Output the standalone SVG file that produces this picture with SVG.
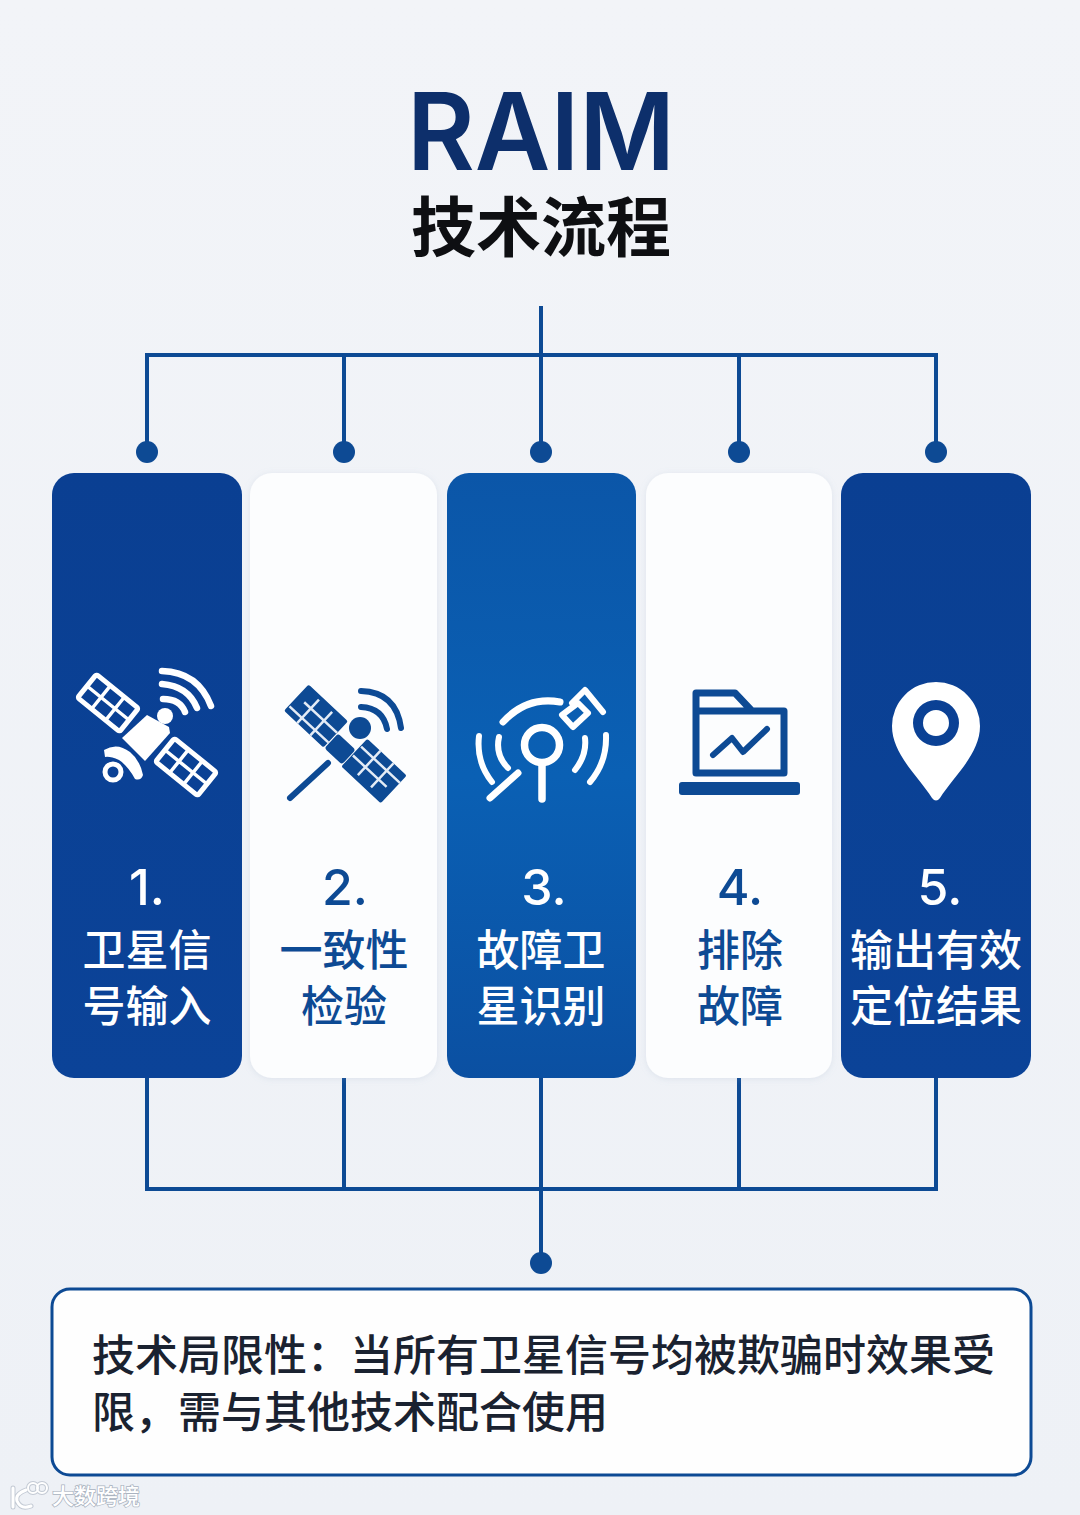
<svg xmlns="http://www.w3.org/2000/svg" width="1080" height="1515" viewBox="0 0 1080 1515">
<style>
.cjk{font-family:"Noto Sans CJK SC","Noto Sans",sans-serif}
.lbl{font-size:43px;font-weight:500;text-anchor:middle}
.num{font-family:"Inter","Noto Sans",sans-serif;font-size:50px;font-weight:500;text-anchor:middle}
.w{fill:#fff}
.b{fill:#0d4a94}
.ws{fill:none;stroke:#fff;stroke-linecap:round;stroke-linejoin:round}
.bs{fill:none;stroke:#0d4a94;stroke-linecap:round;stroke-linejoin:round}
.conn{fill:none;stroke:#0d4a94;stroke-width:4}
.dot{fill:#0d4a94}
.pan{fill:none;stroke:#fff;stroke-width:5;stroke-linejoin:round}
.grid{fill:none;stroke:#fff;stroke-width:3.500}
.lgrid{fill:none;stroke:#e4ecf6;stroke-width:2.500}
</style>
<defs>
<linearGradient id="bg" x1="0" y1="0" x2="0" y2="1"><stop offset="0" stop-color="#f2f4f8"/><stop offset="1" stop-color="#eef1f6"/></linearGradient>
<linearGradient id="c1" x1="0" y1="0" x2="0" y2="1"><stop offset="0" stop-color="#0a3f92"/><stop offset="1" stop-color="#0b4398"/></linearGradient>
<linearGradient id="c3" x1="0" y1="0" x2="0" y2="1"><stop offset="0" stop-color="#0b56a8"/><stop offset="0.5" stop-color="#0a60b4"/><stop offset="1" stop-color="#0b50a2"/></linearGradient>
<filter id="sh" x="-10%" y="-5%" width="120%" height="110%"><feDropShadow dx="0" dy="1" stdDeviation="3" flood-color="#8fa3c0" flood-opacity="0.2"/></filter>
</defs>
<rect width="1080" height="1515" fill="url(#bg)"/>

<g id="title">
<text x="541" y="170" text-anchor="middle" font-family="Inter,'Noto Sans',sans-serif" font-size="107" font-weight="600" fill="#0d2f6b" textLength="268" lengthAdjust="spacingAndGlyphs">RAIM</text>
<text x="541" y="251" text-anchor="middle" class="cjk" font-size="65" font-weight="700" fill="#0e0f12">技术流程</text>
</g>

<g id="connectors">
<path class="conn" d="M541 306V452M147 452V355H936V452M344 355V452M739 355V452"/>
<circle class="dot" cx="147" cy="452" r="11"/>
<circle class="dot" cx="344" cy="452" r="11"/>
<circle class="dot" cx="541" cy="452" r="11"/>
<circle class="dot" cx="739" cy="452" r="11"/>
<circle class="dot" cx="936" cy="452" r="11"/>
<path class="conn" d="M147 1078V1189H936V1078M344 1078V1189M739 1078V1189M541 1078V1263"/>
<circle class="dot" cx="541" cy="1263" r="11"/>
</g>

<g id="node1">
<rect x="52" y="473" width="190" height="605" rx="22" fill="url(#c1)"/>
<g transform="translate(108 703) rotate(39)">
<rect x="-27" y="-15" width="54" height="30" rx="2" class="pan"/>
<path d="M-9 -15V15M9 -15V15M-27 0H27" class="grid"/>
</g>
<g transform="translate(186 767) rotate(39)">
<rect x="-27" y="-15" width="54" height="30" rx="2" class="pan"/>
<path d="M-9 -15V15M9 -15V15M-27 0H27" class="grid"/>
</g>
<polygon class="w" points="147,715 169,727 170,733 145,761 122,738"/>
<circle class="w" cx="165" cy="716" r="8"/>
<path class="w" d="M104 750Q117 742 130 752Q140 760 143 775Q141 781 135 779Q128 766 119 760Q110 756 105 757Z"/>
<circle cx="113" cy="772" r="8" fill="none" stroke="#fff" stroke-width="5"/>
<path class="ws" stroke-width="6.500" d="M163 699Q180 699 185 712"/>
<path class="ws" stroke-width="6.500" d="M162 684Q188 686 197 708"/>
<path class="ws" stroke-width="6.500" d="M162 671Q198 672 211 706"/>
<text class="num w" x="147" y="905">1.</text>
<text class="cjk lbl w" x="147" y="966">卫星信</text>
<text class="cjk lbl w" x="147" y="1022">号输入</text>
</g>

<g id="node2">
<rect x="250" y="473" width="187" height="605" rx="22" fill="#fcfdfe" filter="url(#sh)"/>
<g transform="translate(316 716) rotate(43)">
<rect x="-27" y="-18" width="54" height="36" rx="2" class="b"/>
<path d="M-26 11H27M-9 -14V18M9 -14V18M-18 -2H27" class="lgrid"/>
</g>
<g transform="translate(374 771) rotate(43)">
<rect x="-27" y="-19" width="54" height="38" rx="2" class="b"/>
<path d="M-26 -9H27M-9 -19V14M9 -19V14M-26 3H20" class="lgrid"/>
</g>
<rect x="-12" y="-10" width="24" height="20" rx="3" class="b" transform="translate(340 749) rotate(43)"/>
<circle class="b" cx="360" cy="728" r="11"/>
<path class="bs" stroke-width="6" d="M328 763L290 798"/>
<path class="bs" stroke-width="6" d="M361 707Q383 708 387 729"/>
<path class="bs" stroke-width="6" d="M361 691Q396 692 401 728"/>
<text class="num b" x="345" y="905">2.</text>
<text class="cjk lbl b" x="344" y="966">一致性</text>
<text class="cjk lbl b" x="344" y="1022">检验</text>
</g>

<g id="node3">
<rect x="447" y="473" width="189" height="605" rx="22" fill="url(#c3)"/>
<circle cx="542" cy="745" r="17.500" fill="none" stroke="#fff" stroke-width="7.500"/>
<path class="ws" stroke-width="7.500" d="M542 764V799"/>
<path class="ws" stroke-width="7" d="M490 798L518 773"/>
<path class="ws" stroke-width="7" d="M503 722Q527 696 560 702"/>
<path class="ws" stroke-width="6" d="M562 715L573 727L588 713L578 703Z"/>
<path class="ws" stroke-width="6" d="M572 703L585 690L603 712"/>
<path class="ws" stroke-width="6" d="M499 737Q495 755 508 768"/>
<path class="ws" stroke-width="6" d="M479 736Q476 762 492 782"/>
<path class="ws" stroke-width="6" d="M585 738Q587 755 575 770"/>
<path class="ws" stroke-width="6" d="M606 735Q607 762 590 782"/>
<text class="num w" x="544" y="905">3.</text>
<text class="cjk lbl w" x="541" y="966">故障卫</text>
<text class="cjk lbl w" x="541" y="1022">星识别</text>
</g>

<g id="node4">
<rect x="646" y="473" width="186" height="605" rx="22" fill="#fcfdfe" filter="url(#sh)"/>
<path class="bs" stroke-width="7" d="M696 711V693H735L752 711H784V773H696V711H752"/>
<path class="bs" stroke-width="6" d="M713 755L732 738L743 752L767 729"/>
<rect x="679" y="782" width="121" height="13" rx="3" class="b"/>
<text class="num b" x="740" y="905">4.</text>
<text class="cjk lbl b" x="740" y="966">排除</text>
<text class="cjk lbl b" x="740" y="1022">故障</text>
</g>

<g id="node5">
<rect x="841" y="473" width="190" height="605" rx="22" fill="url(#c1)"/>
<path class="w" fill-rule="evenodd" d="M940 798Q936 803 932 798C918 776 892 754 892 726A44 44 0 0 1 980 726C980 754 954 776 940 798ZM936 700A23 23 0 1 0 936.010 746A23 23 0 1 0 936 700ZM936 710A13 13 0 1 1 935.990 736A13 13 0 1 1 936 710Z"/>
<text class="num w" x="940" y="905">5.</text>
<text class="cjk lbl w" x="936" y="966">输出有效</text>
<text class="cjk lbl w" x="936" y="1022">定位结果</text>
</g>

<g id="note">
<rect x="52" y="1289" width="979" height="186" rx="18" fill="#fefefe" stroke="#0d4a94" stroke-width="3"/>
<text class="cjk" x="92" y="1371" font-size="43" font-weight="500" fill="#1a2230">技术局限性&#xFF1A;当所有卫星信号均被欺骗时效果受</text>
<text class="cjk" x="92" y="1428" font-size="43" font-weight="500" fill="#1a2230">限&#xFF0C;需与其他技术配合使用</text>
</g>

<g id="watermark">
<g fill="none" stroke="#c3cad4" stroke-width="5" stroke-linecap="round">
<path d="M13 1488V1507M26 1490Q15 1494 17 1501Q21 1510 31 1506"/>
<circle cx="33" cy="1488" r="5" stroke-width="4"/><circle cx="42" cy="1488" r="5" stroke-width="4"/>
</g>
<g fill="none" stroke="#fff" stroke-width="3" stroke-linecap="round">
<path d="M13 1488V1507M26 1490Q15 1494 17 1501Q21 1510 31 1506"/>
<circle cx="33" cy="1488" r="5" stroke-width="2"/><circle cx="42" cy="1488" r="5" stroke-width="2"/>
</g>
<text class="cjk" x="52" y="1504" font-size="22" font-weight="500" fill="#fff" stroke="#aab3c0" stroke-width="1.500" paint-order="stroke">大数跨境</text>
</g>
</svg>
